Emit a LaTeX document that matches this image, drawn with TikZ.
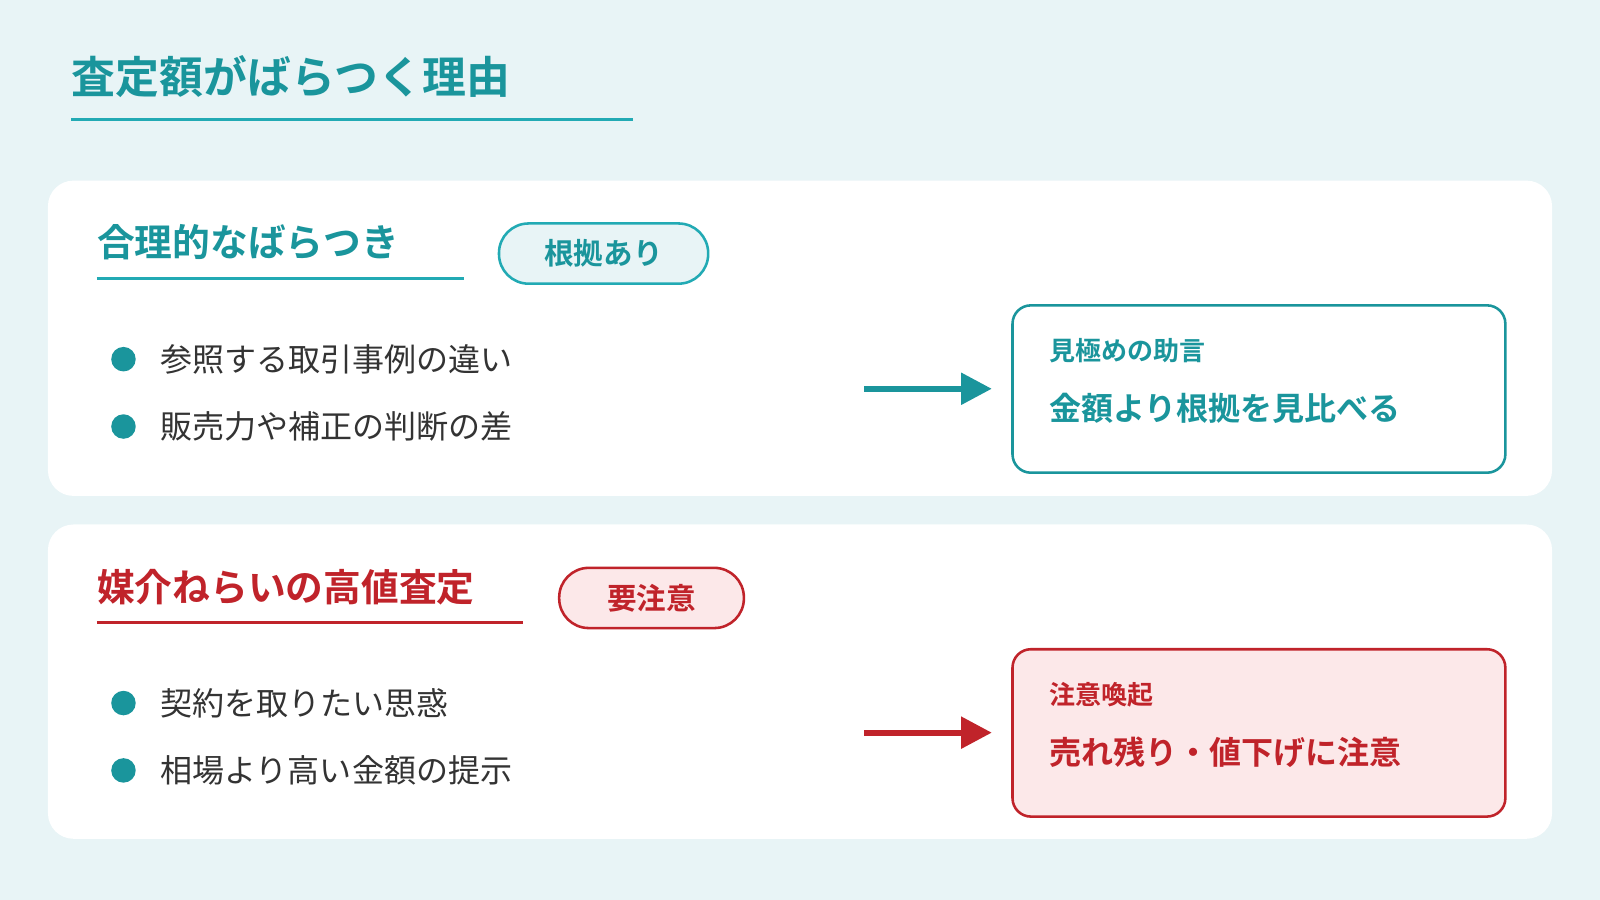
\documentclass[tikz,border=0pt]{standalone}
\usepackage{fontspec}
\setmainfont{Noto Sans CJK JP}
\newfontfamily\jpb{Noto Sans CJK JP Bold}
\usetikzlibrary{arrows.meta}
\definecolor{bg}{HTML}{E8F4F6}
\definecolor{teal}{HTML}{1A959C}
\definecolor{tealline}{HTML}{22AAB4}
\definecolor{redc}{HTML}{C0232A}
\definecolor{pinkf}{HTML}{FCE8E9}
\definecolor{txt}{HTML}{333333}
\tikzset{
 card/.style={fill=white,rounded corners=25pt},
 heading/.style={anchor=west,inner sep=0,font=\jpb\fontsize{37}{42}\selectfont},
 pill/.style={rounded corners=29pt,line width=2.5pt,minimum height=59pt,inner sep=0,font=\jpb\fontsize{29}{32}\selectfont},
 bul/.style={anchor=west,inner sep=0,text=txt,font=\fontsize{31.4}{34}\selectfont},
 dot/.style={circle,fill=teal,minimum size=24pt,inner sep=0},
 box/.style={rounded corners=18pt,line width=2.5pt,anchor=north west,minimum width=483pt,minimum height=164pt},
 blabel/.style={anchor=west,inner sep=0,font=\jpb\fontsize{25.5}{28}\selectfont},
 bmain/.style={anchor=west,inner sep=0,font=\jpb\fontsize{31.4}{34}\selectfont},
 arr/.style={line width=6pt,-{Triangle[length=30pt,width=30pt]}}
}
\begin{document}
\begin{tikzpicture}[x=1pt,y=-1pt]
\fill[bg] (0,0) rectangle (1568,882);
\useasboundingbox (0,0) rectangle (1568,882);
\node[heading,text=teal,font=\jpb\fontsize{43}{48}\selectfont] (title) at (70,75) {査定額がばらつく理由};
\draw[tealline,line width=3pt] (70,117) -- (620,117);
% card 1
\fill[card] (47,177) rectangle (1521,486);
\node[heading,text=teal] (h1) at (95,237) {合理的なばらつき};
\draw[tealline,line width=3pt] (95,273) -- (455,273);
\node[pill,draw=tealline,fill=bg,text=teal,minimum width=205pt] (p1) at (591.5,248.5) {根拠あり};
\node[dot] (d1) at (121,352) {};
\node[bul] (b1) at (157,352) {参照する取引事例の違い};
\node[dot] (d2) at (121,418) {};
\node[bul] (b2) at (157,418) {販売力や補正の判断の差};
\node[box,draw=teal,fill=white] (x1) at (991,298) {};
\node[blabel,text=teal] (l1) at (1028,344) {見極めの助言};
\node[bmain,text=teal] (m1) at (1028,400) {金額より根拠を見比べる};
\coordinate (a1) at (847,381);
\draw[arr,teal] (a1) -- (972,381);
% card 2
\fill[card] (47,514) rectangle (1521,822);
\node[heading,text=redc] (h2) at (95,575) {媒介ねらいの高値査定};
\draw[redc,line width=3pt] (95,610) -- (513,610);
\node[pill,draw=redc,fill=pinkf,text=redc,minimum width=181pt] (p2) at (638.5,586) {要注意};
\node[dot] (d3) at (121,689) {};
\node[bul] (b3) at (157,689) {契約を取りたい思惑};
\node[dot] (d4) at (121,755) {};
\node[bul] (b4) at (157,755) {相場より高い金額の提示};
\node[box,draw=redc,fill=pinkf] (x2) at (991,635) {};
\node[blabel,text=redc] (l2) at (1028,681) {注意喚起};
\node[bmain,text=redc] (m2) at (1028,737) {売れ残り・値下げに注意};
\coordinate (a2) at (847,718);
\draw[arr,redc] (a2) -- (972,718);
\end{tikzpicture}
\end{document}
